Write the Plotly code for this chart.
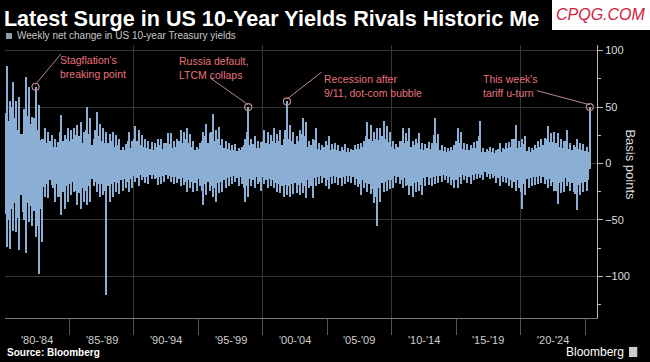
import plotly.graph_objects as go
import pandas as pd

title_text = "Latest Surge in US 10-Year Yields Rivals Historic Me"
legend_text = "Weekly net change in US 10-year Treasury yields"
source_text = "Source: Bloomberg"
y_title = "Basis points"
period_labels = ["'80-'84", "'85-'89", "'90-'94", "'95-'99", "'00-'04",
                 "'05-'09", "'10-'14", "'15-'19", "'20-'24"]
period_mids = ["1982-07-02", "1987-07-02", "1992-07-02", "1997-07-02", "2002-07-02",
               "2007-07-02", "2012-07-02", "2017-07-02", "2022-07-02"]
grid_years = ["1990-01-01", "2000-01-01", "2010-01-01", "2020-01-01"]
sep_years = ["1985-01-01", "1995-01-01", "2005-01-01", "2015-01-01", "2025-01-01"]

# Largest weekly rise in each quarter, 1980Q1 .. 2025Q2 (bp)
up = [86, 55, 72, 55, 59, 25, 77, 68, 41, 68,
      52, 22, 31, 28, 25, 22, 19, 43, 25, 31,
      30, 31, 34, 37, 28, 50, 40, 22, 46, 35,
      31, 28, 26, 28, 25, 22, 15, 17, 28, 20,
      33, 30, 25, 22, 20, 19, 18, 22, 22, 18,
      27, 27, 20, 22, 30, 28, 31, 26, 20, 15,
      18, 28, 35, 27, 44, 30, 32, 22, 20, 18,
      16, 17, 14, 15, 22, 50, 22, 24, 20, 19,
      30, 28, 25, 31, 26, 30, 22, 55, 34, 28,
      24, 30, 40, 37, 20, 22, 31, 18, 16, 20,
      24, 17, 18, 16, 15, 17, 14, 13, 16, 17,
      18, 20, 37, 34, 28, 31, 31, 38, 33, 28,
      20, 17, 20, 31, 27, 31, 20, 22, 27, 18,
      17, 19, 18, 40, 26, 16, 15, 14, 15, 16,
      31, 28, 18, 17, 16, 19, 20, 38, 14, 13,
      15, 14, 12, 18, 14, 18, 19, 22, 34, 20,
      22, 24, 15, 14, 16, 20, 22, 23, 33, 27,
      28, 27, 22, 20, 30, 18, 16, 22, 18, 17,
      15, 50]
# Largest weekly fall in each quarter (bp)
down = [-74, -76, -60, -61, -77, -43, -79, -52, -55, -65,
        -98, -70, -30, -31, -19, -34, -30, -46, -40, -34,
        -28, -25, -37, -40, -34, -37, -34, -20, -25, -30,
        -28, -117, -34, -30, -25, -27, -24, -22, -25, -22,
        -16, -20, -15, -17, -18, -14, -14, -19, -18, -16,
        -14, -16, -18, -17, -20, -19, -25, -22, -25, -24,
        -20, -37, -28, -24, -30, -34, -26, -25, -22, -20,
        -18, -16, -20, -18, -34, -30, -20, -22, -18, -24,
        -18, -22, -20, -22, -25, -26, -30, -28, -30, -27,
        -26, -28, -26, -31, -22, -31, -20, -18, -17, -20,
        -23, -18, -17, -19, -20, -18, -16, -17, -19, -21,
        -28, -22, -25, -27, -35, -55, -34, -25, -24, -23,
        -22, -17, -18, -22, -20, -28, -30, -25, -24, -28,
        -20, -19, -20, -18, -17, -16, -15, -17, -19, -22,
        -22, -18, -15, -17, -18, -15, -14, -13, -15, -12,
        -14, -13, -17, -20, -16, -17, -20, -22, -24, -22,
        -40, -28, -22, -20, -19, -18, -17, -18, -22, -20,
        -24, -36, -26, -25, -20, -24, -25, -41, -28, -25,
        -24, -5]
# Another sizeable weekly rise / fall in each quarter (bp)
up2 = [45, 38, 50, 40, 30, 20, 48, 42, 35, 40, 30, 18,
       22, 18, 20, 15, 14, 28, 20, 22,
       20, 22, 25, 24, 18, 30, 26, 16, 30, 24, 20, 18,
       18, 20, 15, 16, 12, 12, 20, 14, 22, 20, 16, 15, 14, 13,
       12, 15, 16, 13, 18, 17, 14, 15, 20, 18, 22, 18, 15, 12,
       13, 20, 24, 18, 28, 20, 22, 16, 14, 13, 12, 12, 11, 12,
       16, 28, 16, 17, 14, 14, 20, 18, 17, 20,
       18, 20, 16, 30, 22, 20, 17, 20, 26, 24, 15, 16, 21, 13, 12, 15,
       16, 12, 13, 12, 11, 12, 10, 10, 12, 13, 13, 15, 24, 22, 20, 22, 21, 24, 22, 19,
       15, 13, 15, 20, 18, 20, 15, 16, 18, 13, 12, 14, 13, 25, 18, 12, 11, 10, 11, 12,
       20, 18, 13, 12, 12, 14, 14, 24, 10, 10, 11, 10, 9, 13, 10, 13, 14, 15, 22, 14,
       15, 17, 11, 10, 12, 14, 15, 16, 22, 19, 19, 18, 15, 14, 20, 13, 12, 15, 13, 12,
       11, 10]
down2 = [-45, -50, -40, -35, -48, -28, -50, -35, -38, -42, -55, -40,
         -20, -18, -14, -22, -18, -30, -25, -20,
         -18, -16, -24, -26, -22, -24, -20, -14, -16, -18, -18, -24,
         -20, -18, -16, -17, -15, -14, -16, -14, -11, -13, -10, -12, -12, -10,
         -10, -13, -12, -11, -10, -11, -12, -12, -14, -13, -16, -15, -16, -17,
         -14, -24, -18, -16, -20, -22, -17, -16, -15, -13, -12, -11, -13, -12,
         -22, -20, -14, -15, -12, -16, -12, -15, -14, -15,
         -17, -18, -20, -19, -20, -18, -17, -19, -17, -20, -15, -20, -13, -12, -11, -13,
         -15, -12, -11, -12, -13, -12, -11, -11, -12, -14, -18, -15, -17, -18, -23, -30,
         -22, -17, -16, -15,
         -15, -11, -12, -15, -13, -19, -20, -17, -16, -19, -13, -12, -13, -12, -11, -11,
         -10, -11, -12, -15,
         -15, -12, -10, -11, -12, -10, -9, -9, -10, -8, -9, -9, -11, -13, -11, -12,
         -13, -15, -16, -15,
         -25, -18, -14, -13, -12, -12, -11, -12, -15, -14, -16, -24, -17, -16, -13, -16,
         -17, -27, -19, -17, -16, -15]
# Typical weekly move size in each year 1980..2024 (bp)
core = [26, 26, 21, 15, 13, 11, 11, 10, 8, 8,
        8, 8, 8, 8, 10, 9, 8, 7, 8, 9,
        8, 10, 10, 10, 8, 7, 7, 8, 11, 10,
        8, 8, 7, 8, 7, 7, 6, 6, 6, 7,
        8, 6, 11, 11, 10]

event_q = [9, 75, 87, 181]
event_text = ["Stagflation's<br>breaking point", "Russia default,<br>LTCM collaps",
              "Recession after<br>9/11, dot-com bubble", "This week's<br>tariff u-turn"]

BLUE = "#8aaed4"
PINK = "#e8737c"
LEAD = "#b98a90"
DAY = 86400000

q_start = pd.date_range("1980-01-01", periods=len(up), freq="QS")
q_dates = q_start + pd.Timedelta(days=45)
q_dates2 = q_start + pd.Timedelta(days=2)
core_dates = pd.date_range("1980-01-01", periods=len(core), freq="YS") + pd.Timedelta(days=182)

fig = go.Figure()
fig.add_trace(go.Bar(x=core_dates, y=[2 * c for c in core], base=[-c for c in core],
                     width=365 * DAY, marker=dict(color=BLUE, line=dict(width=0)),
                     hoverinfo="skip"))
for xs, vals, w in [(q_dates2, up2, 26), (q_dates2, down2, 26),
                    (q_dates, up, 32), (q_dates, down, 32)]:
    fig.add_trace(go.Bar(x=xs, y=vals, width=w * DAY,
                         marker=dict(color=BLUE, line=dict(width=0))))

ev_x = [q_dates[i] for i in event_q]
ev_y = [up[i] for i in event_q]
fig.add_trace(go.Scatter(x=ev_x, y=ev_y, mode="markers",
                         marker=dict(symbol="circle-open", size=7,
                                     line=dict(color=LEAD, width=1.2), color=LEAD)))

# text positions and leader line ends (x date, y bp)
text_pos = [("1984-02-01", 99), ("1993-05-15", 98), ("2004-08-01", 82), ("2016-12-01", 82)]
line_end = [("1984-05-01", 97), ("1995-11-25", 76), ("2004-07-25", 81), ("2021-04-10", 64.5)]

annotations = []
shapes = []
for i in range(len(event_q)):
    shapes.append(dict(type="line", xref="x", yref="y",
                       x0=ev_x[i], y0=ev_y[i] + 2, x1=line_end[i][0], y1=line_end[i][1],
                       line=dict(color=LEAD, width=1)))
    annotations.append(dict(x=text_pos[i][0], y=text_pos[i][1], xref="x", yref="y",
                            text=event_text[i], showarrow=False, xanchor="left",
                            yanchor="top", align="left",
                            font=dict(family="Liberation Sans", size=10.5, color=PINK)))

for lab, mid in zip(period_labels, period_mids):
    annotations.append(dict(x=mid, y=-0.08, xref="x", yref="paper", text=lab,
                            showarrow=False, yanchor="middle",
                            font=dict(family="Liberation Sans", size=11, color="#cfcfcf")))

annotations += [
    dict(x=0.0169, y=1.033, xref="paper", yref="paper", text=legend_text, showarrow=False,
         xanchor="left", yanchor="middle",
         font=dict(family="Liberation Sans", size=10, color="#c8c8c8")),
    dict(x=1.073, y=0.56, xref="paper", yref="paper", text=y_title, showarrow=False,
         textangle=90, font=dict(family="Liberation Sans", size=13, color="#dddddd")),
    dict(x=0.0, y=-0.128, xref="paper", yref="paper", text="<b>" + source_text + "</b>",
         showarrow=False, xanchor="left", yanchor="middle",
         font=dict(family="Liberation Sans", size=10, color="#ffffff")),
    dict(x=1.049, y=-0.125, xref="paper", yref="paper", text="Bloomberg",
         showarrow=False, xanchor="right", yanchor="middle",
         font=dict(family="Liberation Sans", size=12, color="#ffffff")),
    dict(x=1.006, y=1.11, xref="paper", yref="paper", text="<i>CPQG.COM</i>",
         showarrow=False, xanchor="center", yanchor="middle",
         font=dict(family="Liberation Sans", size=16, color="#d3203f")),
]

shapes += [
    dict(type="rect", xref="paper", yref="paper", x0=0.0017, x1=0.0118, y0=1.022, y1=1.044,
         fillcolor="#8b9cb1", line=dict(width=0)),
    dict(type="rect", xref="paper", yref="paper", x0=1.054, x1=1.068, y0=-0.143, y1=-0.106,
         fillcolor="#cccccc", line=dict(width=0)),
    dict(type="rect", xref="paper", yref="paper", x0=0.924, x1=1.1, y0=1.055, y1=1.17,
         fillcolor="#ffffff", line=dict(width=0), layer="above"),
]

fig.update_layout(
    width=650, height=362,
    margin=dict(l=5, r=53, t=45, b=44),
    paper_bgcolor="#000000", plot_bgcolor="#000000",
    barmode="overlay", bargap=0, showlegend=False,
    title=dict(text="<b>" + title_text + "</b>", x=0.006, xref="container", xanchor="left",
               y=0.95, yref="container", yanchor="middle",
               font=dict(family="Liberation Sans", size=21.6, color="#ffffff")),
    annotations=annotations, shapes=shapes,
    xaxis=dict(type="date", range=["1980-01-01", "2025-12-05"],
               tickvals=grid_years, showticklabels=False,
               ticks="outside", ticklen=16, tickcolor="#555555", tickwidth=1,
               showgrid=True, gridcolor="#353535", gridwidth=1,
               minor=dict(tickvals=sep_years, ticks="outside", ticklen=16,
                          tickcolor="#555555", showgrid=False),
               showline=True, linecolor="#777777", linewidth=1, zeroline=False),
    yaxis=dict(side="right", range=[-137, 105], tickvals=[-100, -50, 0, 50, 100],
               ticks="outside", ticklen=5, tickcolor="#bbbbbb",
               tickfont=dict(family="Liberation Sans", size=11, color="#dddddd"),
               minor=dict(dtick=25, ticks="outside", ticklen=3, tickcolor="#bbbbbb",
                          showgrid=False),
               showgrid=True, gridcolor="#353535", gridwidth=1,
               zeroline=True, zerolinecolor="#353535", zerolinewidth=1,
               showline=True, linecolor="#bbbbbb", linewidth=1),
)

fig.write_html("out.html", config={"displayModeBar": False},
               post_script="document.body.style.margin='0px';")
